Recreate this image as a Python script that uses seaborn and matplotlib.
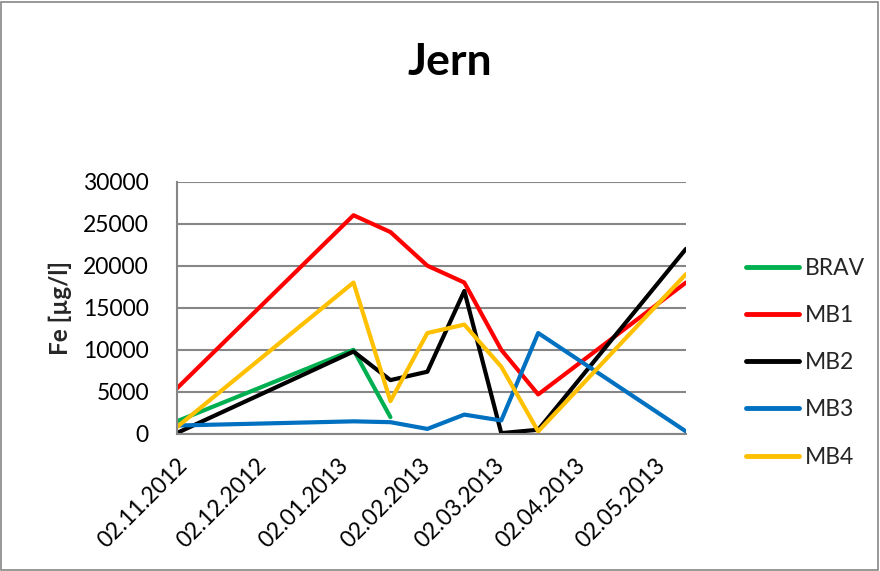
import matplotlib
matplotlib.use("Agg")
import matplotlib.pyplot as plt
import matplotlib.dates as mdates
from matplotlib.patches import Rectangle
import numpy as np
import pandas as pd
import seaborn as sns

# Sampling dates and iron concentrations (µg/l) per monitoring point
dates = ["02.11.2012", "08.01.2013", "22.01.2013", "05.02.2013",
         "19.02.2013", "05.03.2013", "19.03.2013", "14.05.2013"]
brav = [1500, 10000, 2000, np.nan, np.nan, np.nan, np.nan, np.nan]
mb1 = [5400, 26000, 24000, 20000, 18000, 10000, 4700, 18000]
mb2 = [100, 9800, 6400, 7400, 17000, 100, 500, 22000]
mb3 = [1000, 1500, 1400, 600, 2300, 1600, 12000, 300]
mb4 = [800, 18000, 3900, 12000, 13000, 8000, 300, 19000]

series_names = ["BRAV", "MB1", "MB2", "MB3", "MB4"]
series_values = [brav, mb1, mb2, mb3, mb4]
colors = ["#00B050", "#FF0000", "#000000", "#0070C0", "#FFC000"]

yticks = [0, 5000, 10000, 15000, 20000, 25000, 30000]

date_index = pd.to_datetime(dates, format="%d.%m.%Y")
frames = []
for name, vals in zip(series_names, series_values):
    frames.append(pd.DataFrame({"Dato": date_index, "Fe": vals, "Punkt": name}))
df = pd.concat(frames, ignore_index=True).dropna()

sns.set_theme(style="white")
plt.rcParams["font.family"] = ["Lato", "DejaVu Sans"]

fig = plt.figure(figsize=(8.8, 5.71), dpi=100)
ax = fig.add_axes([0.2008, 0.240, 0.5787, 0.442])

sns.lineplot(data=df, x="Dato", y="Fe", hue="Punkt", hue_order=series_names,
             palette=colors, linewidth=3.0, ax=ax, legend=False,
             sort=True, estimator=None)

ax.set_ylim(0, 30000)
ax.set_yticks(yticks)
ax.set_yticklabels([str(v) for v in yticks])
ax.set_xlim(date_index[0], date_index[-1])
ax.xaxis.set_major_locator(mdates.MonthLocator(bymonthday=2))
ax.xaxis.set_major_formatter(mdates.DateFormatter("%d.%m.%Y"))

ax.grid(axis="y", color="#868686", linewidth=1.5)
ax.set_axisbelow(True)
for side in ["top", "right"]:
    ax.spines[side].set_visible(False)
for side in ["left", "bottom"]:
    ax.spines[side].set_color("#868686")
    ax.spines[side].set_linewidth(1.5)

ax.tick_params(axis="both", length=0, colors="black")
ax.tick_params(axis="y", pad=20, labelsize=16.5)
ax.tick_params(axis="x", pad=15, labelsize=16.5)
for lbl in ax.get_xticklabels():
    lbl.set_rotation(45)
    lbl.set_ha("right")
    lbl.set_va("top")
    lbl.set_rotation_mode("anchor")

ax.set_xlabel("")
ax.set_ylabel("Fe [µg/l]", fontsize=17.5, fontweight="bold", labelpad=8)

fig.text(0.511, 0.891, "Jern", ha="center", va="center",
         fontsize=32, fontweight="bold", color="black")

handles = [plt.Line2D([], [], color=c, linewidth=3.5) for c in colors]
fig.legend(handles, series_names, loc="upper left",
           bbox_to_anchor=(0.848, 0.548), frameon=False, fontsize=16.5,
           handlelength=2.3, handletextpad=0.25, labelspacing=1.14,
           borderaxespad=0, borderpad=0)

fig.add_artist(Rectangle((0.0015, 0.002), 0.996, 0.995, transform=fig.transFigure,
                         fill=False, edgecolor="#868686", linewidth=1.2))

fig.savefig("out.png", dpi=100)
